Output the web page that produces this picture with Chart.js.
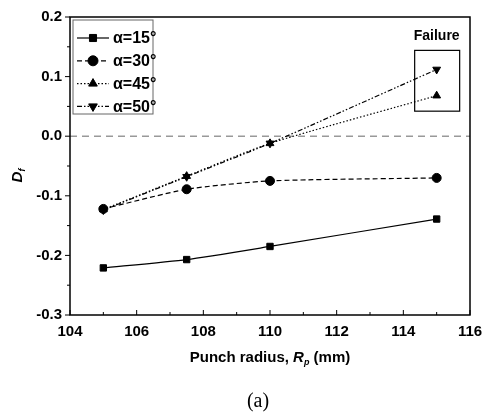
<!DOCTYPE html>
<html>
<head>
<meta charset="utf-8">
<script src="https://cdn.jsdelivr.net/npm/chart.js@4.4.1/dist/chart.umd.min.js"></script>
<style>
  html, body { margin: 0; padding: 0; background: #fff; }
  #wrap { width: 491px; height: 413px; position: relative; }
</style>
</head>
<body>
<div id="wrap"><canvas id="DfChart" width="491" height="413"></canvas></div>
<script>
// punch radius values (mm)
const radius = [105, 107.5, 110, 115];

const seriesLabels = ['\u03b1=15\u00b0', '\u03b1=30\u00b0', '\u03b1=45\u00b0', '\u03b1=50\u00b0'];
const df15 = [-0.221, -0.207, -0.185, -0.139];
const df30 = [-0.122, -0.089, -0.075, -0.070];
const df45 = [-0.123, -0.067, -0.012, 0.068];
const df50 = [-0.124, -0.068, -0.012, 0.112];

const xTicks = [104, 106, 108, 110, 112, 114, 116];
const yTicks = [-0.3, -0.2, -0.1, 0.0, 0.1, 0.2];

const FONT = '"Liberation Sans", Arial, sans-serif';

function toPoints(values) {
    return values.map(function (v, i) { return { x: radius[i], y: v }; });
}

// draws frame, ticks, zero line, failure box and titles
const decorPlugin = {
    id: 'decor',
    beforeDatasetsDraw(chart) {
        const ctx = chart.ctx;
        const ys = chart.scales.y;
        const a = chart.chartArea;
        ctx.save();
        // zero reference line
        ctx.strokeStyle = '#999';
        ctx.lineWidth = 1.5;
        ctx.setLineDash([7, 5]);
        ctx.beginPath();
        ctx.moveTo(a.left, ys.getPixelForValue(0));
        ctx.lineTo(a.right, ys.getPixelForValue(0));
        ctx.stroke();
        ctx.restore();
    },
    afterDraw(chart) {
        const ctx = chart.ctx;
        const xs = chart.scales.x, ys = chart.scales.y;
        const a = chart.chartArea;
        ctx.save();
        ctx.strokeStyle = '#000';
        ctx.lineWidth = 1.5;
        ctx.strokeRect(a.left, a.top, a.right - a.left, a.bottom - a.top);

        ctx.lineWidth = 1;
        ctx.beginPath();
        for (let v = 104; v <= 116; v += 1) {
            const px = xs.getPixelForValue(v);
            const len = (v % 2 === 0) ? 5 : 3;
            ctx.moveTo(px, a.bottom); ctx.lineTo(px, a.bottom - len);
        }
        for (let i = 0; i <= 10; i++) {
            const v = -0.3 + i * 0.05;
            const py = ys.getPixelForValue(v);
            const len = (i % 2 === 0) ? 5 : 3;
            ctx.moveTo(a.left, py); ctx.lineTo(a.left - len, py);
        }
        ctx.stroke();

        // failure box around the last two points
        const fx = xs.getPixelForValue(115);
        ctx.lineWidth = 1.2;
        ctx.strokeRect(fx - 22, ys.getPixelForValue(0.144), 45, ys.getPixelForValue(0.042) - ys.getPixelForValue(0.144));
        ctx.fillStyle = '#000';
        ctx.font = 'bold 14px ' + FONT;
        ctx.textAlign = 'center';
        ctx.textBaseline = 'alphabetic';
        ctx.fillText('Failure', fx, ys.getPixelForValue(0.161));

        // x title with italic R and subscript p
        const parts = [
            { t: 'Punch radius, ', f: 'bold 15px ' + FONT, dy: 0 },
            { t: 'R', f: 'italic bold 15px ' + FONT, dy: 0 },
            { t: 'p', f: 'italic bold 9px ' + FONT, dy: 3 },
            { t: ' (mm)', f: 'bold 15px ' + FONT, dy: 0 }
        ];
        let total = 0;
        parts.forEach(function (p) { ctx.font = p.f; total += ctx.measureText(p.t).width; });
        let x = (a.left + a.right) / 2 - total / 2;
        const yTitle = 362;
        ctx.textAlign = 'left';
        parts.forEach(function (p) {
            ctx.font = p.f;
            ctx.fillText(p.t, x, yTitle + p.dy);
            x += ctx.measureText(p.t).width;
        });

        // y title D_f
        ctx.translate(22, 175);
        ctx.rotate(-Math.PI / 2);
        ctx.font = 'italic bold 15px ' + FONT;
        ctx.textAlign = 'left';
        const dw = ctx.measureText('D').width;
        ctx.fillText('D', -(dw + 4) / 2, 0);
        ctx.font = 'italic bold 9px ' + FONT;
        ctx.fillText('f', -(dw + 4) / 2 + dw, 3);
        ctx.setTransform(1, 0, 0, 1, 0, 0);

        // caption
        ctx.font = '20px "Liberation Serif", "Times New Roman", serif';
        ctx.textAlign = 'center';
        ctx.fillText('(a)', (a.left + a.right) / 2 - 12, 407);
        ctx.restore();
    }
};

// legend with line sample and marker
const lineLegendPlugin = {
    id: 'lineLegend',
    afterDraw(chart) {
        const ctx = chart.ctx;
        const a = chart.chartArea;
        const bx = a.left + 3, by = a.top + 3, bw = 80, bh = 94;
        ctx.save();
        ctx.fillStyle = '#fff';
        ctx.fillRect(bx, by, bw, bh);
        ctx.strokeStyle = '#666';
        ctx.lineWidth = 1;
        ctx.strokeRect(bx, by, bw, bh);
        chart.data.datasets.forEach(function (ds, i) {
            const y = by + 18 + i * 22.8;
            ctx.strokeStyle = '#000';
            ctx.fillStyle = '#000';
            ctx.lineWidth = 1.2;
            ctx.setLineDash(ds.borderDash || []);
            ctx.beginPath();
            ctx.moveTo(bx + 4, y);
            ctx.lineTo(bx + 36, y);
            ctx.stroke();
            ctx.setLineDash([]);
            ctx.lineWidth = 1;
            Chart.helpers.drawPoint(ctx, {
                pointStyle: ds.pointStyle, radius: 5, rotation: ds.rotation || 0, borderWidth: 1
            }, bx + 20, y);
            ctx.fillStyle = '#000';
            ctx.font = 'bold 16px ' + FONT;
            ctx.textAlign = 'left';
            ctx.textBaseline = 'middle';
            ctx.fillText(ds.label, bx + 40, y + 1);
        });
        ctx.restore();
    }
};

function makeSet(label, values, style, dash, rot) {
    return {
        label: label,
        data: toPoints(values),
        borderColor: '#000',
        backgroundColor: '#000',
        borderWidth: 1.2,
        borderDash: dash,
        pointStyle: style,
        rotation: rot,
        pointRadius: 4.5,
        pointHoverRadius: 4.5,
        pointBorderWidth: 1,
        tension: 0.2
    };
}

const ctx = document.getElementById('DfChart');

new Chart(ctx, {
    type: 'line',
    data: {
        datasets: [
            makeSet(seriesLabels[0], df15, 'rect', [], 0),
            makeSet(seriesLabels[1], df30, 'circle', [5, 3], 0),
            makeSet(seriesLabels[2], df45, 'triangle', [1.5, 2], 0),
            makeSet(seriesLabels[3], df50, 'triangle', [5, 2, 1.5, 2, 1.5, 2], 180)
        ]
    },
    options: {
        responsive: false,
        animation: false,
        layout: { padding: { left: 0, right: 21, top: 14, bottom: 0 } },
        plugins: {
            legend: { display: false },
            tooltip: { enabled: false }
        },
        scales: {
            x: {
                type: 'linear',
                min: 104,
                max: 116,
                afterFit: function (scale) { scale.height = 98; },
                afterBuildTicks: function (scale) { scale.ticks = xTicks.map(function (v) { return { value: v }; }); },
                grid: { display: false, drawTicks: false },
                border: { display: false },
                ticks: {
                    color: '#000',
                    padding: 8,
                    font: { family: FONT, size: 15, weight: 'bold' }
                }
            },
            y: {
                type: 'linear',
                min: -0.3,
                max: 0.2,
                afterFit: function (scale) { scale.width = 70; },
                afterBuildTicks: function (scale) { scale.ticks = yTicks.map(function (v) { return { value: v }; }); },
                grid: { display: false, drawTicks: false },
                border: { display: false },
                ticks: {
                    color: '#000',
                    padding: 8,
                    font: { family: FONT, size: 15, weight: 'bold' },
                    callback: function (value) { return value.toFixed(1); }
                }
            }
        }
    },
    plugins: [decorPlugin, lineLegendPlugin]
});
</script>
</body>
</html>
